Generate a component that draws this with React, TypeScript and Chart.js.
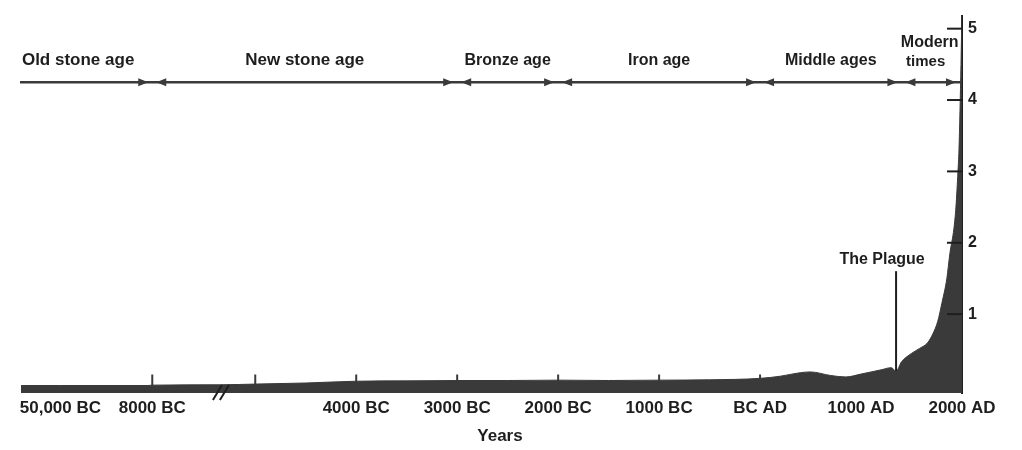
import React, { useEffect, useRef } from "react";
import { Chart, registerables } from "chart.js";

Chart.register(...registerables);

// ---- data (years: negative = BC; values in billions) ----
const POP_YEARS = [
  -68000, -50000, -20000, -10000, -8000, -6000, -5000, -4500, -4000, -3500, -3000, -2500, -2000, -1500,
  -1000, -500, 0, 200, 400, 500, 700, 850, 1000, 1200, 1300, 1347, 1400, 1500, 1580, 1660, 1710,
  1760, 1800, 1850, 1880, 1920, 1940, 1960, 1970, 1990, 2000,
];
const POP_VALUES = [
  0.0, 0.0, 0.0, 0.0, 0.005, 0.01, 0.02, 0.035, 0.06, 0.065, 0.07, 0.07, 0.075, 0.07,
  0.075, 0.08, 0.1, 0.13, 0.18, 0.19, 0.14, 0.12, 0.16, 0.22, 0.25, 0.2, 0.33, 0.45, 0.52, 0.6, 0.72,
  0.9, 1.15, 1.5, 1.85, 2.2, 2.5, 3.0, 3.3, 4.5, 5.3,
];

const TICK_YEARS = [-50000, -8000, -4000, -3000, -2000, -1000, 0, 1000, 2000];
const TICK_LABELS = ["50,000 BC", "8000 BC", "4000 BC", "3000 BC", "2000 BC", "1000 BC", "BC AD", "1000 AD", "2000 AD"];
const MARK_YEARS = [-8000, -5000, -4000, -3000, -2000, -1000, 0, 1000];
const Y_TICKS = [1, 2, 3, 4, 5];

const ERA_NAMES = ["Old stone age", "New stone age", "Bronze age", "Iron age", "Middle ages", "Modern\ntimes"];
const ERA_ENDS = [-8000, -3000, -2000, 0, 1400, 2000];

const BREAK_YEAR = -6000;
const PLAGUE_YEAR = 1347;
const PLAGUE_LABEL = "The Plague";
const X_TITLE = "Years";

// broken time axis: compressed segments before 5000 BC
const AXIS_BREAK_YEARS = [-50000, -8000, -5000];
const AXIS_BREAK_POS = [-6.93, -6.02, -5];
function toAxis(year: number): number {
  if (year >= AXIS_BREAK_YEARS[2]) return year / 1000;
  if (year >= AXIS_BREAK_YEARS[1]) {
    const t = (year - AXIS_BREAK_YEARS[1]) / (AXIS_BREAK_YEARS[2] - AXIS_BREAK_YEARS[1]);
    return AXIS_BREAK_POS[1] + t * (AXIS_BREAK_POS[2] - AXIS_BREAK_POS[1]);
  }
  const t = (year - AXIS_BREAK_YEARS[0]) / (AXIS_BREAK_YEARS[1] - AXIS_BREAK_YEARS[0]);
  return AXIS_BREAK_POS[0] + t * (AXIS_BREAK_POS[1] - AXIS_BREAK_POS[0]);
}
function valueAt(year: number): number {
  for (let i = 0; i < POP_YEARS.length - 1; i++) {
    if (year >= POP_YEARS[i] && year <= POP_YEARS[i + 1]) {
      const t = (year - POP_YEARS[i]) / (POP_YEARS[i + 1] - POP_YEARS[i]);
      return POP_VALUES[i] + t * (POP_VALUES[i + 1] - POP_VALUES[i]);
    }
  }
  return 0;
}

const INK = "#1e1e1e";
const FILL = "#3a3a3a";
const FAMILY = "'Liberation Sans', Arial, sans-serif";
const FONT = "bold 16px " + FAMILY;

const decorPlugin = {
  id: "decor",
  afterDraw(chart: any) {
    const { ctx, chartArea, scales } = chart;
    const xs = scales.x;
    const ys = scales.y;
    const px = (year: number) => xs.getPixelForValue(toAxis(year));
    ctx.save();
    ctx.strokeStyle = INK;
    ctx.fillStyle = INK;
    ctx.lineCap = "butt";

    // inward y ticks
    ctx.lineWidth = 2;
    Y_TICKS.forEach((v) => {
      const y = ys.getPixelForValue(v);
      ctx.beginPath();
      ctx.moveTo(chartArea.right - 15, y);
      ctx.lineTo(chartArea.right, y);
      ctx.stroke();
    });

    // upward x tick marks
    const y0 = ys.getPixelForValue(0);
    ctx.strokeStyle = FILL;
    ctx.lineWidth = 2;
    MARK_YEARS.forEach((yr) => {
      const x = px(yr);
      ctx.beginPath();
      ctx.moveTo(x, y0 + 2);
      ctx.lineTo(x, y0 - 11);
      ctx.stroke();
    });

    // axis break mark
    const bx = px(BREAK_YEAR);
    const yb = chartArea.bottom;
    ctx.strokeStyle = INK;
    ctx.lineWidth = 2;
    [-4, 3].forEach((off) => {
      ctx.beginPath();
      ctx.moveTo(bx + off - 4, yb + 7);
      ctx.lineTo(bx + off + 5, yb - 8);
      ctx.stroke();
    });

    // timeline of ages
    const ty = ys.getPixelForValue(4.25);
    ctx.strokeStyle = "#3a3a3a";
    ctx.fillStyle = "#3a3a3a";
    ctx.lineWidth = 2.5;
    ctx.beginPath();
    ctx.moveTo(chartArea.left, ty);
    ctx.lineTo(chartArea.right, ty);
    ctx.stroke();
    const arrow = (tip: number, dir: number) => {
      ctx.beginPath();
      ctx.moveTo(tip, ty);
      ctx.lineTo(tip - dir * 10, ty - 4);
      ctx.lineTo(tip - dir * 10, ty + 4);
      ctx.closePath();
      ctx.fill();
    };
    let prev = chartArea.left;
    ctx.textAlign = "center";
    ctx.textBaseline = "middle";
    ERA_ENDS.forEach((yr, i) => {
      const bxp = px(yr);
      if (i < ERA_ENDS.length - 1) {
        arrow(bxp - 4, 1);
        arrow(bxp + 4, -1);
      } else {
        arrow(bxp - 6, 1);
      }
      const cx = (prev + bxp) / 2;
      const lines = ERA_NAMES[i].split("\n");
      ctx.fillStyle = INK;
      if (lines.length === 1) {
        ctx.font = i < 2 ? "bold 17px " + FAMILY : FONT;
        ctx.fillText(lines[0], i === 0 ? cx - 8 : cx, ty - 22);
      } else {
        ctx.font = FONT;
        ctx.fillText(lines[0], cx - 2, ty - 40);
        ctx.font = "bold 15px " + FAMILY;
        ctx.fillText(lines[1], cx - 6, ty - 20);
      }
      ctx.fillStyle = "#3a3a3a";
      prev = bxp;
    });

    // plague marker
    const plx = px(PLAGUE_YEAR);
    const ply = ys.getPixelForValue(valueAt(PLAGUE_YEAR));
    const labelY = ys.getPixelForValue(1.77);
    ctx.strokeStyle = INK;
    ctx.lineWidth = 2;
    ctx.beginPath();
    ctx.moveTo(plx, labelY + 12);
    ctx.lineTo(plx, ply);
    ctx.stroke();
    ctx.fillStyle = INK;
    ctx.font = FONT;
    ctx.fillText(PLAGUE_LABEL, plx - 14, labelY);

    // x title
    ctx.font = "bold 17px " + FAMILY;
    ctx.fillText(X_TITLE, 500, chartArea.bottom + 43);
    ctx.restore();
  },
};

export default function App() {
  const ref = useRef<HTMLCanvasElement | null>(null);
  useEffect(() => {
    if (!ref.current) return;
    const chart = new Chart(ref.current, {
      type: "line",
      data: {
        datasets: [
          {
            data: POP_YEARS.map((yr, i) => ({ x: toAxis(yr), y: POP_VALUES[i] })),
            borderColor: FILL,
            backgroundColor: FILL,
            borderWidth: 1,
            pointRadius: 0,
            fill: "start",
            tension: 0.3,
            cubicInterpolationMode: "monotone",
          },
        ],
      },
      options: {
        animation: false,
        responsive: true,
        maintainAspectRatio: false,
        layout: { padding: { top: 3, left: 20, right: 0, bottom: 0 } },
        plugins: { legend: { display: false }, tooltip: { enabled: false } },
        scales: {
          x: {
            type: "linear",
            min: -7.33,
            max: 2,
            grid: { display: false, drawTicks: false },
            border: { display: false },
            afterBuildTicks: (s: any) => {
              s.ticks = TICK_YEARS.map((yr) => ({ value: toAxis(yr) }));
            },
            afterFit: (s: any) => {
              s.height = 57;
            },
            ticks: {
              autoSkip: false,
              maxRotation: 0,
              minRotation: 0,
              padding: 5,
              color: INK,
              font: { family: FAMILY, size: 17, weight: "bold" },
              callback: (_v: any, i: number) => TICK_LABELS[i],
            },
          },
          y: {
            position: "right",
            min: -0.105,
            max: 5.183,
            grid: { display: false, drawTicks: false },
            border: { display: true, color: INK, width: 2 },
            afterBuildTicks: (s: any) => {
              s.ticks = Y_TICKS.map((v) => ({ value: v }));
            },
            afterFit: (s: any) => {
              s.width = 60;
            },
            ticks: {
              padding: 6,
              color: INK,
              font: { family: FAMILY, size: 16, weight: "bold" },
              callback: (v: any) => String(v),
            },
          },
        },
      },
      plugins: [decorPlugin],
    } as any);
    return () => chart.destroy();
  }, []);
  return (
    <div style={{ position: "absolute", left: 0, top: 0, width: 1022, height: 450, background: "#fff" }}>
      <canvas ref={ref} />
    </div>
  );
}
